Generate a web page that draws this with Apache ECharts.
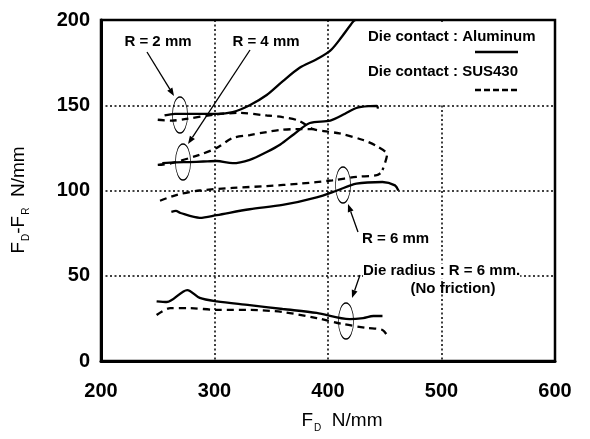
<!DOCTYPE html>
<html>
<head>
<meta charset="utf-8">
<script src="https://cdn.jsdelivr.net/npm/echarts@6/dist/echarts.min.js"></script>
<style>
  html, body { margin: 0; padding: 0; background: #fff; }
  #main { width: 590px; height: 439px; }
</style>
</head>
<body>
<div id="main"></div>
<script>
// axis ticks
var xTicks = [200, 300, 400, 500, 600];
var yTicks = [0, 50, 100, 150, 200];

// Die contact : Aluminum (solid), [F_D, F_D-F_R]
var alR2 = [[256,144],[265,145],[280,145],[302,145],[316,146],[331,150],[346,156],[360,164],[375,172],[390,177],[402,182],[412,190],[422,199],[424,200]];
var alR4 = [[254,116],[266,116.5],[278,116.7],[290,117],[302,117.3],[316,116],[331,118],[346,122.6],[358,127],[370,133],[384,139.6],[402,141],[415,145],[425,148.4],[437,149.5],[443,149.6],[444,148]];
var alR6 = [[262,87.5],[266,88],[270,86.8],[287,84],[302,85.6],[331,89],[360,91.5],[390,96],[408,100],[425,104],[448,105],[459,103],[462,100]];
var alNoFric = [[249,35],[258,34.6],[276,41.6],[287,37],[302,35],[331,32.8],[360,30.5],[390,28.2],[419,24.6],[431,25.2],[440,26.4],[448,26.4]];

// Die contact : SUS430 (dashed)
var susR2 = [[250,141.5],[262,141],[275,142],[300,144.5],[322,145.5],[346,144],[360,143],[374,141],[387,136],[400,134.5],[410,133.5],[431,129.6],[443,126],[452,121],[448,112]];
var susR4 = [[250,115],[262,116],[287,121],[302,125],[316,130.8],[331,132.5],[346,134.3],[358,135.5],[372,136],[387,136]];
var susR6 = [[252,94],[267,97.5],[287,100],[316,101.5],[346,102.6],[375,104],[404,106],[425,108],[443,109],[448,111]];
var susNoFric = [[249,27],[261,31],[278,31],[302,30],[331,30],[360,28.7],[390,25.2],[413,21.7],[434,19.4],[448,18.2],[453,14]];

var fam = '"Liberation Sans", Arial, sans-serif';
var font = 'bold 15px ' + fam;

function solid(d) {
    return { type: 'line', data: d, symbol: 'none', smooth: 0.3, z: 3,
        lineStyle: { color: '#000', width: 2.3 } };
}
function dashed(d) {
    return { type: 'line', data: d, symbol: 'none', smooth: 0.3, z: 3,
        lineStyle: { color: '#000', width: 2.3, type: [7, 5] } };
}
function label(t, x, y, align, bg) {
    return { type: 'text', z: 10, style: { text: t, x: x, y: y, font: font, fill: '#000',
        textAlign: align || 'left', textVerticalAlign: 'middle',
        backgroundColor: bg || 'transparent' } };
}
function ring(x, y) {
    return { type: 'circle', z: 10, x: x, y: y, scaleX: 0.42, shape: { cx: 0, cy: 0, r: 18 },
        style: { fill: 'none', stroke: '#000', lineWidth: 1.6, strokeNoScale: true } };
}
function arrow(x1, y1, x2, y2) {
    var dx = x2 - x1, dy = y2 - y1, len = Math.sqrt(dx * dx + dy * dy);
    var ux = dx / len, uy = dy / len, h = 8, w = 3;
    return [
        { type: 'line', z: 10, shape: { x1: x1, y1: y1, x2: x2 - ux * h, y2: y2 - uy * h },
          style: { stroke: '#000', lineWidth: 1.3 } },
        { type: 'polygon', z: 10, shape: { points: [[x2, y2],
            [x2 - ux * h - uy * w, y2 - uy * h + ux * w],
            [x2 - ux * h + uy * w, y2 - uy * h - ux * w]] },
          style: { fill: '#000' } }
    ];
}

var nameRich = {
    f: { fontSize: 19, fontFamily: fam, fill: '#000', color: '#000', lineHeight: 24 },
    s: { fontSize: 10, fontFamily: fam, fill: '#000', color: '#000', lineHeight: 24, verticalAlign: 'bottom', padding: [10, 0, 0, 1] }
};

var myChart = echarts.init(document.getElementById('main'));
var option = {
    backgroundColor: '#fff',
    animation: false,
    grid: { left: 101, right: 35, top: 20, bottom: 78, show: true,
        borderColor: '#000', borderWidth: 2.5 },
    xAxis: {
        type: 'value', min: xTicks[0], max: xTicks[xTicks.length - 1], interval: 100,
        axisLine: { lineStyle: { color: '#000', width: 3 } },
        axisTick: { show: false },
        axisLabel: { color: '#000', fontSize: 20, fontWeight: 'bold', fontFamily: fam, margin: 20 },
        splitLine: { lineStyle: { color: '#000', width: 1.5, type: [2, 2.5] } }
    },
    yAxis: {
        type: 'value', min: yTicks[0], max: yTicks[yTicks.length - 1], interval: 50,
        axisLine: { lineStyle: { color: '#000', width: 3 } },
        axisTick: { show: false },
        axisLabel: { color: '#000', fontSize: 20, fontWeight: 'bold', fontFamily: fam, margin: 11 },
        splitLine: { lineStyle: { color: '#000', width: 1.5, type: [2, 2.5] } }
    },
    series: [
        solid(alR2), solid(alR4), solid(alR6), solid(alNoFric),
        dashed(susR2), dashed(susR4), dashed(susR6), dashed(susNoFric)
    ],
    graphic: [].concat(
        [
            // white legend box covering the grid lines
            { type: 'rect', z: 1, shape: { x: 365, y: 22, width: 188, height: 81 },
              style: { fill: '#fff' } },
            label('R = 2 mm', 158, 42, 'center'),
            label('R = 4 mm', 266, 42, 'center'),
            label('Die contact : Aluminum', 368, 37),
            { type: 'line', z: 10, shape: { x1: 475, y1: 52, x2: 518, y2: 52 }, style: { stroke: '#000', lineWidth: 2.3 } },
            label('Die contact : SUS430', 368, 72),
            { type: 'line', z: 10, shape: { x1: 475, y1: 90, x2: 520, y2: 90 }, style: { stroke: '#000', lineWidth: 2.3, lineDash: [6, 3] } },
            label('R = 6 mm', 362, 239),
            label('Die radius : R = 6 mm.', 363, 271, 'left', '#fff'),
            label('(No friction)', 453, 289, 'center'),
            ring(180, 115), ring(183, 162), ring(343, 185), ring(346, 321),
            { type: 'text', z: 10, x: 342, y: 421, style: { text: '{f|F}{s|D}{f|  N/mm}', rich: nameRich,
                textAlign: 'center', textVerticalAlign: 'middle' } },
            { type: 'text', z: 10, x: 19, y: 200, rotation: Math.PI / 2, style: { text: '{f|F}{s|D}{f|-F}{s|R}{f|  N/mm}', rich: nameRich,
                textAlign: 'center', textVerticalAlign: 'middle' } }
        ],
        arrow(147, 52, 174, 96),
        arrow(250, 50, 188, 144),
        arrow(358, 232, 348, 204),
        arrow(360, 275, 352, 298)
    )
};

myChart.setOption(option);
</script>
</body>
</html>
